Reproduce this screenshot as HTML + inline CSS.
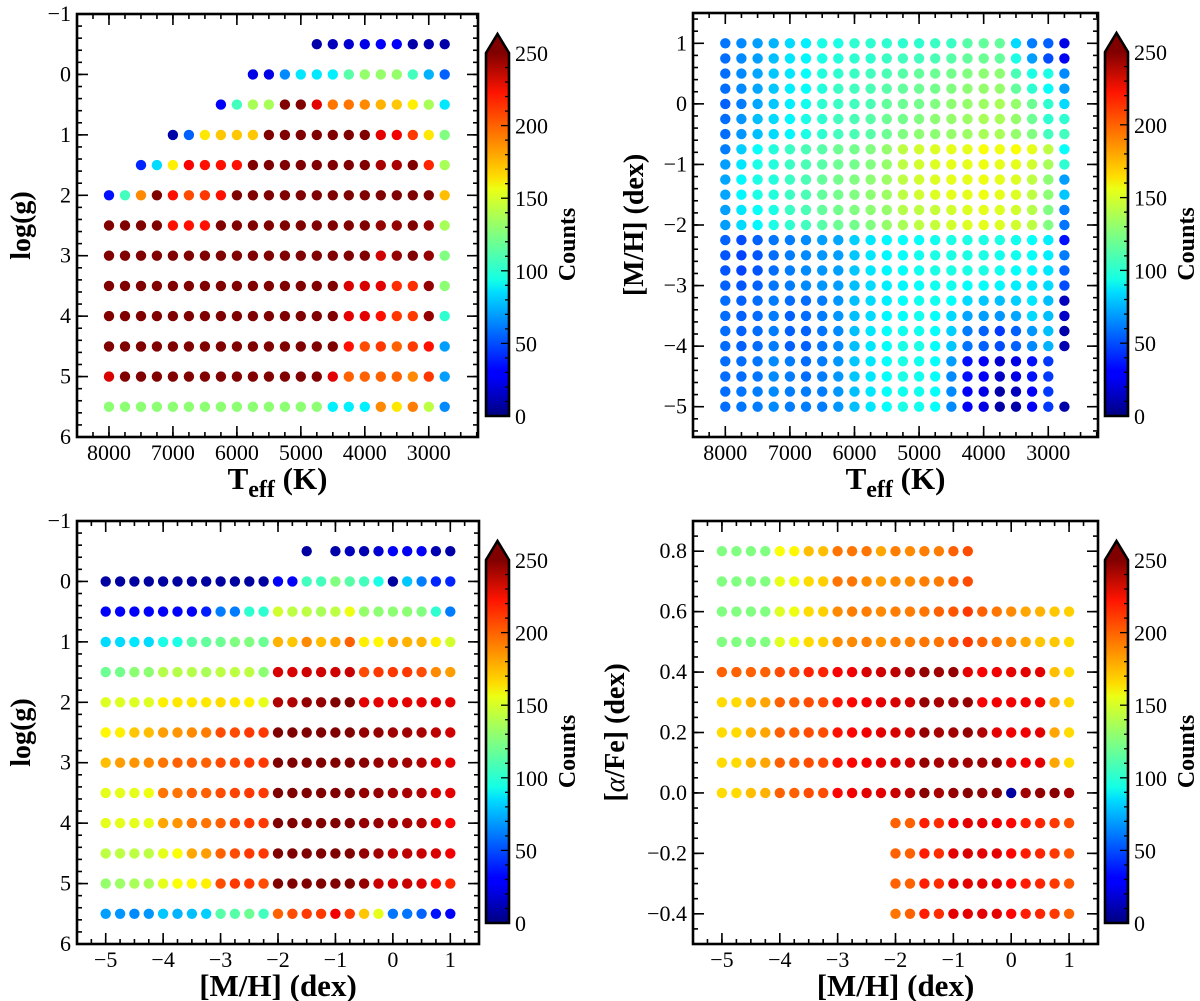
<!DOCTYPE html>
<html><head><meta charset="utf-8">
<style>
html,body{margin:0;padding:0;background:#fff;}
svg{display:block;font-family:"Liberation Serif",serif;}
</style></head>
<body>
<svg id="fig" width="1200" height="1001" viewBox="0 0 1200 1001" xmlns="http://www.w3.org/2000/svg">
<defs>
<linearGradient id="jetgrad" x1="0" y1="1" x2="0" y2="0">
<stop offset="0" stop-color="rgb(0,0,128)"/>
<stop offset="0.11" stop-color="rgb(0,0,255)"/>
<stop offset="0.125" stop-color="rgb(0,0,255)"/>
<stop offset="0.34" stop-color="rgb(0,220,255)"/>
<stop offset="0.375" stop-color="rgb(20,255,230)"/>
<stop offset="0.5" stop-color="rgb(128,255,128)"/>
<stop offset="0.625" stop-color="rgb(235,255,20)"/>
<stop offset="0.66" stop-color="rgb(255,220,0)"/>
<stop offset="0.89" stop-color="rgb(255,20,0)"/>
<stop offset="1" stop-color="rgb(128,0,0)"/>
</linearGradient>
</defs>
</svg>
<script>
// ---------- DATA ----------
const teffCols = [8000,7750,7500,7250,7000,6750,6500,6250,6000,5750,5500,5250,5000,4750,4500,4250,4000,3750,3500,3250,3000,2750];
const loggRows = [-0.5,0,0.5,1,1.5,2,2.5,3,3.5,4,4.5,5,5.5];
const mhRows = [1,0.75,0.5,0.25,0,-0.25,-0.5,-0.75,-1,-1.25,-1.5,-1.75,-2,-2.25,-2.5,-2.75,-3,-3.25,-3.5,-3.75,-4,-4.25,-4.5,-4.75,-5];
const mhCols = [-5,-4.75,-4.5,-4.25,-4,-3.75,-3.5,-3.25,-3,-2.75,-2.5,-2.25,-2,-1.75,-1.5,-1.25,-1,-0.75,-0.5,-0.25,0,0.25,0.5,0.75,1];
const afeRows = [0.8,0.7,0.6,0.5,0.4,0.3,0.2,0.1,0,-0.1,-0.2,-0.3,-0.4];
const N = null;
// Panel 1: counts[logg][teff]
const countsTeffLogg = [
[N,N,N,N,N,N,N,N,N,N,N,N,N,10,15,20,25,30,30,10,12,10],
[N,N,N,N,N,N,N,N,N,25,25,65,88,88,90,115,130,130,130,110,75,55],
[N,N,N,N,N,N,N,30,110,135,135,255,250,225,190,190,185,175,170,160,135,88],
[N,N,N,N,10,55,162,170,170,170,255,255,255,255,255,255,255,225,222,205,162,125],
[N,N,40,85,160,220,215,215,215,250,250,250,250,250,250,250,250,240,240,250,210,135],
[35,110,185,250,215,200,205,215,250,250,250,250,250,250,250,250,250,250,250,250,250,172],
[250,250,250,250,215,215,215,250,250,250,250,250,250,250,250,250,250,245,245,250,245,135],
[250,250,250,250,250,250,250,250,250,250,250,250,250,250,250,250,250,230,245,250,245,125],
[250,250,250,250,250,250,250,250,250,250,250,250,250,250,250,228,228,225,208,208,245,128],
[250,250,250,250,250,250,250,250,250,250,250,250,250,250,250,225,225,215,205,205,245,105],
[250,250,250,250,250,250,250,250,250,250,250,250,250,250,250,215,200,205,195,205,215,70],
[228,250,250,250,250,250,250,250,250,250,250,250,250,250,225,195,195,195,195,185,205,70],
[128,128,128,128,128,128,128,128,128,128,128,128,128,128,90,90,90,185,162,188,140,65]
];
// Panel 2: counts[mh][teff]
const countsTeffMH = [
[60,65,70,75,85,90,100,100,105,105,105,105,105,108,108,115,118,118,85,62,55,25],
[58,65,70,78,88,92,100,102,105,105,108,110,110,112,115,118,120,118,100,70,50,28],
[58,65,72,80,88,95,102,105,108,110,112,115,118,120,122,125,128,128,112,100,100,65],
[58,65,72,80,90,95,102,108,110,112,115,118,120,122,125,128,130,130,118,105,95,70],
[55,62,72,80,90,98,105,108,110,112,118,120,122,125,128,130,132,135,130,120,105,85],
[58,68,78,85,92,100,105,110,112,115,120,122,125,128,130,132,135,135,130,120,105,105],
[58,68,78,85,92,100,105,110,112,115,120,125,128,128,130,132,135,135,130,125,110,110],
[62,82,95,102,108,112,115,120,122,125,130,140,145,148,150,150,155,152,155,150,140,95],
[70,88,100,102,108,112,115,120,122,125,130,140,145,148,150,150,152,150,150,145,135,105],
[72,92,100,102,108,112,118,122,125,128,132,140,145,148,150,150,152,150,148,140,128,70],
[72,92,100,102,108,112,118,122,125,128,132,140,145,148,150,150,152,150,148,140,128,80],
[70,88,95,100,108,112,118,122,125,128,130,138,140,142,145,148,150,148,145,138,125,62],
[70,85,92,100,105,110,115,120,122,125,130,135,140,142,145,148,150,148,145,140,125,60],
[55,50,55,60,62,65,70,72,82,88,92,95,95,98,100,100,100,100,98,95,90,35],
[52,48,52,58,62,65,68,70,80,88,92,95,98,100,100,100,100,98,98,95,90,62],
[52,48,52,58,62,65,68,70,80,88,92,95,98,100,100,100,100,98,95,92,88,55],
[55,52,55,60,62,65,68,70,78,85,90,92,95,98,98,95,95,92,90,88,85,50],
[58,55,58,62,58,58,62,68,78,85,90,95,98,98,95,85,80,78,82,88,78,15],
[58,55,58,62,55,58,62,68,78,85,92,95,98,95,85,72,70,68,72,85,78,18],
[58,55,58,62,55,55,60,65,78,88,95,98,98,95,82,62,55,45,55,68,78,10],
[58,55,58,62,55,55,60,65,78,88,95,100,100,95,80,60,55,50,55,65,75,12],
[58,58,60,65,62,58,62,68,80,88,95,100,98,95,70,35,30,20,25,35,45,N],
[58,58,60,65,62,58,62,68,80,88,95,100,98,95,65,35,30,18,25,35,45,N],
[58,60,62,65,62,62,62,68,78,88,95,98,98,95,65,30,25,10,15,30,45,N],
[58,60,62,65,62,62,62,68,78,88,95,100,98,95,65,30,25,10,10,30,45,10]
];
// Panel 3: counts[logg][mh]
const countsMHLogg = [
[N,N,N,N,N,N,N,N,N,N,N,N,N,N,8,N,10,15,12,20,30,28,30,12,10],
[8,8,8,8,8,8,8,8,8,8,8,8,30,30,110,110,125,115,110,100,8,80,62,40,40],
[30,30,30,30,30,30,30,38,62,62,105,105,145,140,140,135,140,152,130,128,128,128,125,105,62],
[85,85,88,85,100,100,115,118,120,125,125,120,175,170,185,172,178,195,160,158,178,175,175,160,145],
[120,122,128,128,138,138,138,135,140,140,140,128,228,228,230,230,230,232,200,205,205,205,200,185,180],
[148,148,148,148,160,162,162,162,165,162,160,150,238,238,245,245,250,250,225,225,225,225,225,225,225],
[158,160,170,172,180,182,185,188,200,200,205,205,252,252,252,252,252,252,245,245,242,242,240,235,230],
[172,180,182,185,190,195,195,195,200,200,205,205,252,252,252,252,252,252,248,245,242,242,238,228,225],
[150,150,150,152,190,190,195,195,200,202,205,205,252,252,252,252,252,252,245,245,242,240,238,228,225],
[150,150,150,150,178,182,190,190,195,200,205,205,252,252,252,252,252,252,245,245,242,240,238,225,220],
[140,140,140,140,150,155,178,180,195,200,205,205,252,252,252,252,252,252,245,242,235,235,232,228,222],
[130,132,135,135,150,155,158,160,200,205,205,200,252,252,252,252,252,252,245,232,230,232,228,215,210],
[70,68,65,68,80,75,78,82,115,115,120,110,195,200,205,205,222,205,170,150,60,60,55,35,30]
];
// Panel 4: counts[afe][mh]
const countsMHAfe = [
[125,125,125,125,155,158,172,172,190,190,190,178,188,185,188,188,195,200,N,N,N,N,N,N,N],
[125,125,125,125,150,152,165,168,190,190,185,180,185,185,188,188,195,200,N,N,N,N,N,N,N],
[125,125,125,125,148,152,165,168,185,188,188,185,188,188,190,195,198,205,195,190,185,178,175,170,168],
[125,125,125,125,148,152,165,168,185,185,188,182,188,188,190,190,198,205,195,190,185,178,170,170,165],
[195,195,195,195,200,200,210,210,220,222,228,230,235,238,245,242,245,225,220,222,225,225,225,172,165],
[165,165,175,178,195,195,200,200,215,218,222,225,228,230,245,240,242,245,220,222,222,222,222,178,165],
[165,165,175,178,195,195,200,200,215,218,222,225,228,230,245,240,242,245,238,225,222,222,225,178,165],
[165,165,175,178,195,195,200,200,215,218,222,225,228,230,245,240,242,242,242,245,225,222,225,178,165],
[165,165,172,175,195,195,200,200,218,222,225,225,232,235,248,240,245,248,245,248,8,242,245,248,240],
[N,N,N,N,N,N,N,N,N,N,N,N,195,195,212,208,222,225,225,222,218,212,210,205,200],
[N,N,N,N,N,N,N,N,N,N,N,N,195,195,212,208,225,228,225,225,218,212,210,205,198],
[N,N,N,N,N,N,N,N,N,N,N,N,195,195,212,208,225,225,225,225,218,212,210,205,198],
[N,N,N,N,N,N,N,N,N,N,N,N,190,195,212,208,225,225,225,225,218,212,210,205,195]
];
const teffTicks = [8000,7000,6000,5000,4000,3000];
const loggTicks = [-1,0,1,2,3,4,5,6];
const mhYTicks = [1,0,-1,-2,-3,-4,-5];
const mhXTicks = [-5,-4,-3,-2,-1,0,1];
const afeTicks = [0.8,0.6,0.4,0.2,0.0,-0.2,-0.4];
const cbarTicks = [0,50,100,150,200,250];

// ---------- RENDER ----------
const NS = "http://www.w3.org/2000/svg";
const svg = document.getElementById('fig');
function mk(tag, attrs, parent){
  const e = document.createElementNS(NS, tag);
  for (const k in attrs) e.setAttribute(k, attrs[k]);
  (parent||svg).appendChild(e);
  return e;
}
function jet(v){
  if (v > 250) return 'rgb(128,0,0)';
  const t = Math.max(0, Math.min(1, v/250));
  const f = x => Math.max(0, Math.min(1, x));
  const r = f(Math.min(4*t-1.5, -4*t+4.5));
  const g = f(Math.min(4*t-0.5, -4*t+3.5));
  const b = f(Math.min(4*t+0.5, -4*t+2.5));
  return `rgb(${Math.round(r*255)},${Math.round(g*255)},${Math.round(b*255)})`;
}
function fmt(v, dec){
  const s = Math.abs(v).toFixed(dec);
  return (v < 0 ? '\u2212' : '') + s;
}
function panel(cfg){
  const g = mk('g', {});
  
  
  const X = v => cfg.bx0 + (v - cfg.xlim[0]) / (cfg.xlim[1]-cfg.xlim[0]) * (cfg.bx1-cfg.bx0);
  const Y = v => cfg.by0 + (v - cfg.ylim[0]) / (cfg.ylim[1]-cfg.ylim[0]) * (cfg.by1-cfg.by0);
  const dg = mk('g', {}, g);
  
  
  cfg.rows.forEach((ry, i) => {
    cfg.cols.forEach((cx, j) => {
      const v = cfg.data[i][j];
      if (v === null || v === undefined) return;
      const c = mk('circle', {cx: X(cx).toFixed(1), cy: Y(ry).toFixed(1), r: 5.2, fill: jet(v)}, dg);
      
      
    });
  });
  const tg = mk('g', {stroke:'#000', 'stroke-width':1.6}, g);
  const minorX = [], minorY = [];
  for (let v = Math.ceil(Math.min(...cfg.xlim)/cfg.xminor)*cfg.xminor; v <= Math.max(...cfg.xlim)+1e-9; v += cfg.xminor) minorX.push(v);
  for (let v = Math.ceil(Math.min(...cfg.ylim)/cfg.yminor - 1e-9)*cfg.yminor; v <= Math.max(...cfg.ylim)+1e-9; v += cfg.yminor) minorY.push(v);
  minorX.forEach(v => { const x = X(v);
    mk('line', {x1:x, x2:x, y1:cfg.by0, y2:cfg.by0+5}, tg);
    mk('line', {x1:x, x2:x, y1:cfg.by1, y2:cfg.by1-5}, tg); });
  minorY.forEach(v => { const y = Y(v);
    mk('line', {x1:cfg.bx0, x2:cfg.bx0+5, y1:y, y2:y}, tg);
    mk('line', {x1:cfg.bx1, x2:cfg.bx1-5, y1:y, y2:y}, tg); });
  cfg.xticks.forEach(v => { const x = X(v);
    mk('line', {x1:x, x2:x, y1:cfg.by0, y2:cfg.by0+11}, tg);
    mk('line', {x1:x, x2:x, y1:cfg.by1, y2:cfg.by1-11}, tg);
    const t = mk('text', {x:x, y:cfg.by1+23, 'font-size':22, 'text-anchor':'middle'}, g);
    t.textContent = fmt(v, cfg.xdec);
    
    
  });
  cfg.yticks.forEach(v => { const y = Y(v);
    mk('line', {x1:cfg.bx0, x2:cfg.bx0+11, y1:y, y2:y}, tg);
    mk('line', {x1:cfg.bx1, x2:cfg.bx1-11, y1:y, y2:y}, tg);
    const t = mk('text', {x:cfg.bx0-6, y:y+7, 'font-size':22, 'text-anchor':'end'}, g);
    t.textContent = fmt(v, cfg.ydec);
    
    
  });
  const frame = mk('rect', {x:cfg.bx0, y:cfg.by0, width:cfg.bx1-cfg.bx0, height:cfg.by1-cfg.by0, fill:'none', stroke:'#000', 'stroke-width':2.6}, g);
  
  
  const cb = mk('g', {}, g);
  
  
  const cx0 = cfg.cbx, cx1 = cfg.cbx+23, ct = cfg.by0+39, cbt = cfg.by0+20, cbb = cfg.by1-21;
  mk('rect', {x:cx0, y:ct, width:23, height:cbb-ct, fill:'url(#jetgrad)'}, cb);
  mk('polygon', {points:`${cx0},${ct} ${(cx0+cx1)/2},${cbt} ${cx1},${ct}`, fill:'rgb(128,0,0)'}, cb);
  const CY = v => cbb - v/250*(cbb-ct);
  for (let v = 10; v < 250; v += 10){
    const major = v % 50 === 0;
    mk('line', {x1:cx1, x2:cx1-(major?8:4), y1:CY(v), y2:CY(v), stroke:'#000', 'stroke-width':1.3}, cb);
  }
  mk('path', {d:`M${cx0},${cbb} L${cx0},${ct} L${(cx0+cx1)/2},${cbt} L${cx1},${ct} L${cx1},${cbb} Z`, fill:'none', stroke:'#000', 'stroke-width':2.6}, cb);
  cbarTicks.forEach(v => {
    const t = mk('text', {x:cx1+6, y:CY(v)+8, 'font-size':22}, cb);
    t.textContent = String(v);
    
    
  });
  const cl = mk('text', {x:0, y:0, 'font-size':24, 'font-weight':'bold', 'text-anchor':'middle', transform:`translate(${cx1+66},${(ct+cbb)/2+10}) rotate(-90)`}, cb);
  cl.textContent = 'Counts';
  
  
  const xt = mk('text', {x:(cfg.bx0+cfg.bx1)/2, y:cfg.by1+52, 'font-size':31, 'font-weight':'bold', 'text-anchor':'middle'}, g);
  xt.innerHTML = cfg.xtitle;
  
  
  const yt = mk('text', {x:0, y:0, 'font-size':28, 'font-weight':'bold', 'text-anchor':'middle', transform:`translate(${cfg.ytx},${(cfg.by0+cfg.by1)/2}) rotate(-90)`}, g);
  yt.innerHTML = cfg.ytitle;
  
  
}
const teffTitle = 'T<tspan dy="8" font-size="24">eff</tspan><tspan dy="-8"> (K)</tspan>';
panel({name:'panel-teff-logg', bx0:77, bx1:478, by0:14, by1:437, xlim:[8500,2230], ylim:[-1,6],
  rows:loggRows, cols:teffCols, data:countsTeffLogg, xticks:teffTicks, yticks:loggTicks, xminor:250, yminor:0.2,
  xdec:0, ydec:0, cbx:486, xtitle:teffTitle, ytitle:'log(g)', ytx:30});
panel({name:'panel-teff-mh', bx0:693, bx1:1098, by0:13, by1:437, xlim:[8500,2230], ylim:[1.5,-5.5],
  rows:mhRows, cols:teffCols, data:countsTeffMH, xticks:teffTicks, yticks:mhYTicks, xminor:250, yminor:0.2,
  xdec:0, ydec:0, cbx:1105, xtitle:teffTitle, ytitle:'[M/H] (dex)', ytx:643});
panel({name:'panel-mh-logg', bx0:77, bx1:479, by0:521, by1:944, xlim:[-5.5,1.5], ylim:[-1,6],
  rows:loggRows, cols:mhCols, data:countsMHLogg, xticks:mhXTicks, yticks:loggTicks, xminor:0.25, yminor:0.2,
  xdec:0, ydec:0, cbx:486, xtitle:'[M/H] (dex)', ytitle:'log(g)', ytx:30});
panel({name:'panel-mh-afe', bx0:693, bx1:1098, by0:521, by1:944, xlim:[-5.5,1.5], ylim:[0.9,-0.5],
  rows:afeRows, cols:mhCols, data:countsMHAfe, xticks:mhXTicks, yticks:afeTicks, xminor:0.25, yminor:0.05,
  xdec:0, ydec:1, cbx:1105, xtitle:'[M/H] (dex)', ytitle:'[<tspan font-style="italic" font-weight="normal">α</tspan>/Fe] (dex)', ytx:624});
</script>
</body></html>
